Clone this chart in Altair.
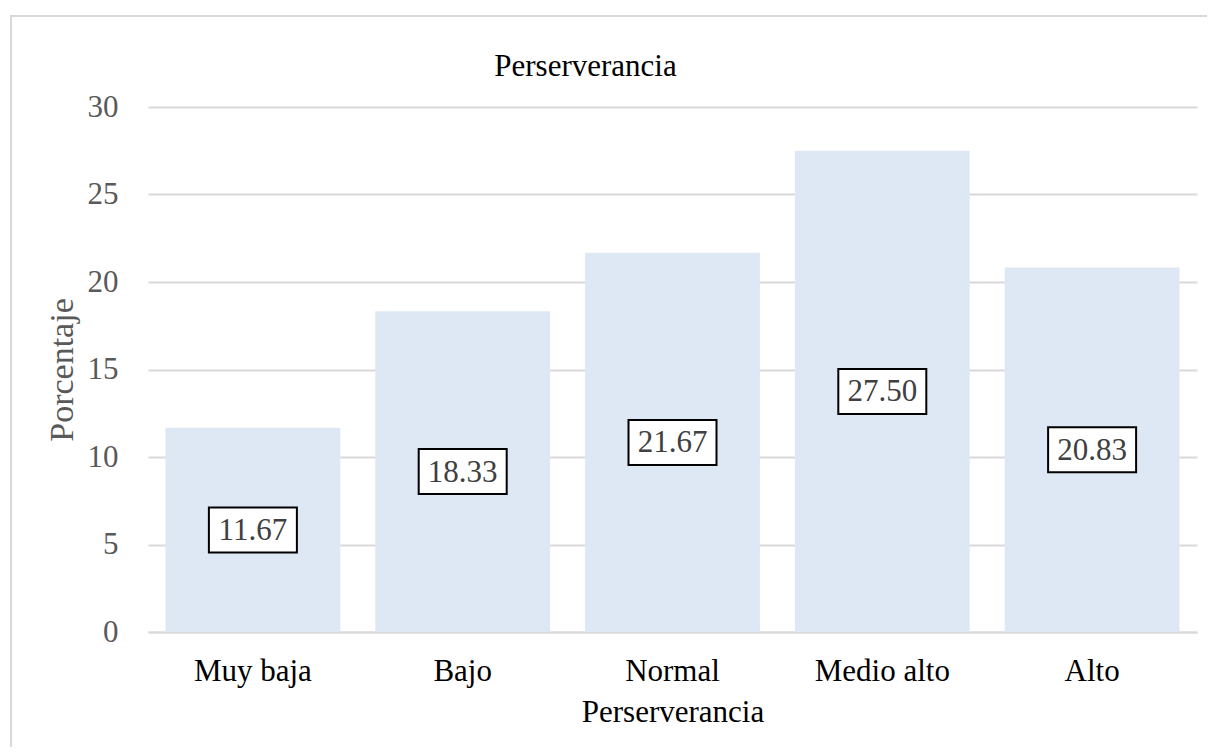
import altair as alt
import pandas as pd

categories = ["Muy baja", "Bajo", "Normal", "Medio alto", "Alto"]
values = [11.67, 18.33, 21.67, 27.50, 20.83]
y_ticks = [0, 5, 10, 15, 20, 25, 30]

df = pd.DataFrame({"cat": categories, "val": values})
df["mid"] = df["val"] / 2
df["lab"] = [f"{v:.2f}" for v in values]

FONT = "Liberation Serif"

x_enc = alt.X(
    "cat:N", sort=categories, title="Perserverancia",
    scale=alt.Scale(paddingInner=0.1667, paddingOuter=0.0833),
    axis=alt.Axis(labelAngle=0, labelFont=FONT, labelFontSize=31, labelColor="#000000",
                  titleFont=FONT, titleFontSize=31, titleColor="#000000", titleFontWeight="normal",
                  ticks=False, tickSize=0, labelPadding=24, titlePadding=11,
                  domainColor="#d9d9d9", domainWidth=2, grid=False)
)

bars = alt.Chart(df).mark_bar(color="#DEE8F5").encode(
    x=x_enc,
    y=alt.Y("val:Q", title="Porcentaje",
            scale=alt.Scale(domain=[0, 30], nice=False),
            axis=alt.Axis(values=y_ticks, labelFont=FONT, labelFontSize=31, labelColor="#595959",
                          titleFont=FONT, titleFontSize=34, titleColor="#595959", titleFontWeight="normal",
                          ticks=False, tickSize=0, labelPadding=30, titlePadding=8,
                          domain=False, gridColor="#d9d9d9", gridWidth=2)),
)

boxes = alt.Chart(df).mark_rect(width=88, height=45, fill="white", stroke="black", strokeWidth=2).encode(
    x=alt.X("cat:N", sort=categories),
    y=alt.Y("mid:Q"),
)

labels = alt.Chart(df).mark_text(font=FONT, fontSize=31, color="#404040", baseline="middle", dy=1).encode(
    x=alt.X("cat:N", sort=categories),
    y=alt.Y("mid:Q"),
    text="lab:N",
)

border = alt.Chart(df).mark_rect(fill="transparent", fillOpacity=0, stroke="#d9d9d9", strokeWidth=2).encode(
    x=alt.value(-137), x2=alt.value(1080), y=alt.value(-91), y2=alt.value(660)
)

chart = alt.layer(border, bars, boxes, labels).properties(
    width=1049, height=525,
    background="white",
    title=alt.TitleParams("Perserverancia", font=FONT, fontSize=31, fontWeight="normal", color="#000000",
                          anchor="middle", frame="group", dx=-87, baseline="alphabetic", offset=-92),
    autosize=alt.AutoSizeParams(type="none"),
    padding={"left": 140, "top": 99, "right": 10, "bottom": 115},
).configure_view(strokeWidth=0, stroke="transparent")

chart.save("out.html", embed_options={"renderer": "svg", "actions": False})
